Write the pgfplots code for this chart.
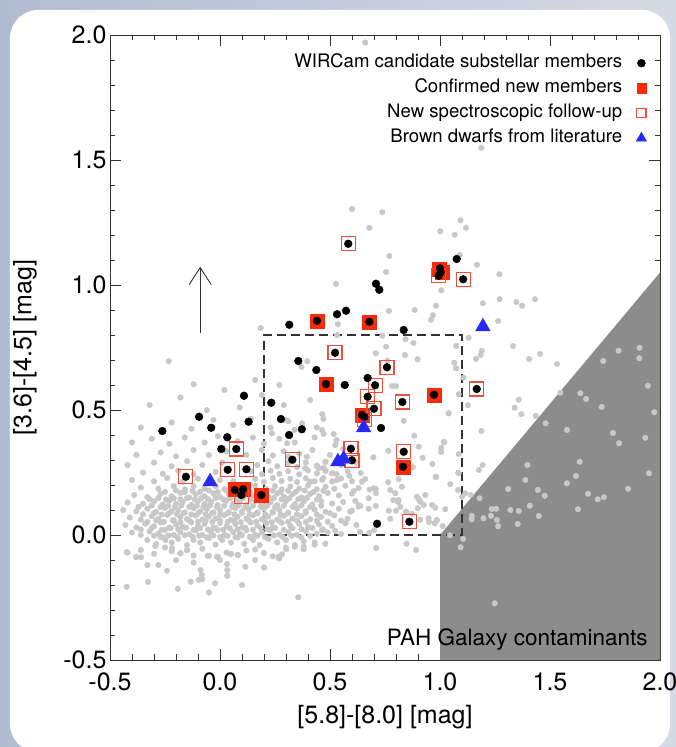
\documentclass[border=0pt]{standalone}
\usepackage{pgfplots}
\pgfplotsset{compat=1.18}
\usepackage{fontspec}
\setmainfont{TeX Gyre Heros}
\usetikzlibrary{arrows.meta}
\definecolor{bgA}{RGB}{176,188,210}
\definecolor{bgB}{RGB}{214,218,228}
\definecolor{shadec}{RGB}{140,140,140}
\definecolor{dotc}{RGB}{200,200,200}
\definecolor{redf}{RGB}{250,42,10}
\definecolor{redo}{RGB}{240,80,55}
\definecolor{bluet}{RGB}{40,40,250}
\definecolor{axc}{RGB}{50,50,50}
\begin{document}
\begin{tikzpicture}
\fill[left color=bgA, right color=bgB] (-110pt,-87pt) rectangle (566pt,660pt);
\fill[white, rounded corners=28pt] (-100pt,-92pt) rectangle (560pt,650pt);
\begin{axis}[
  scale only axis, width=550pt, height=625pt,
  xmin=-0.5, xmax=2.0, ymin=-0.5, ymax=2.0,
  xtick={-0.5,0,0.5,1,1.5,2}, ytick={-0.5,0,0.5,1,1.5,2},
  minor x tick num=4, minor y tick num=4,
  xtick pos=both, ytick pos=both,
  tick align=inside, major tick length=11pt, minor tick length=5.5pt,
  axis line style={axc, line width=0.9pt},
  every tick/.style={axc, line width=0.8pt},
  /pgf/number format/.cd, fixed, fixed zerofill, precision=1, assume math mode=true,
  /pgfplots/.cd,
  ticklabel style={font=\fontsize{25}{30}\selectfont},
  xticklabel style={yshift=-9pt},
  xlabel={[5.8]-[8.0] [mag]},
  ylabel={[3.6]-[4.5] [mag]},
  label style={font=\fontsize{25}{30}\selectfont},
  xlabel style={at={(axis description cs:0.5,-0.0912)}, anchor=center},
  ylabel style={at={(axis description cs:-0.1545,0.5)}, anchor=center},
  legend plot pos=right,
  legend cell align=right,
  legend style={at={(axis cs:1.94,1.922)}, anchor=north east, draw=none, fill=none,
    inner sep=0pt, row sep=8pt, column sep=14pt, font=\fontsize{18.6}{22}\selectfont,
    nodes={inner sep=0pt, text height=13pt, text depth=4pt}},
]
\addlegendimage{only marks, mark=*, mark size=4pt, black}
\addlegendentry{WIRCam candidate substellar members}
\addlegendimage{only marks, mark=square*, mark size=4.6pt, redf, mark options={draw=redf, fill=redf}}
\addlegendentry{Confirmed new members}
\addlegendimage{only marks, mark=square, mark size=4.6pt, redo, mark options={draw=redo, line width=1.1pt}}
\addlegendentry{New spectroscopic follow-up}
\addlegendimage{only marks, mark=triangle*, mark size=6pt, bluet, mark options={draw=bluet, fill=bluet}}
\addlegendentry{Brown dwarfs from literature}

% PAH galaxy region
\addplot[fill=shadec, draw=none, forget plot] coordinates {(1.0,-0.5) (1.0,0.0) (2.0,1.05) (2.0,-0.5)} -- cycle;

% field sources
\addplot[dotc, only marks, mark=*, mark size=2.8pt, mark options={draw=none, fill=dotc}, forget plot] coordinates {
(0.66,1.97) (1.188,1.549) (0.60,1.304) (0.738,1.291) (0.679,1.229) (1.001,1.215) (0.770,1.116) (0.755,1.052)
(0.527,1.005) (1.006,0.979) (0.982,0.917) (0.968,0.879) (0.959,0.861) (0.885,0.90) (0.768,0.896) (0.536,0.843)
(0.185,0.828) (0.532,0.80) (0.738,0.797) (0.843,0.783) (0.879,0.768) (0.755,0.753) (0.708,0.727) (0.841,0.72)
(0.898,0.703) (0.761,0.697) (0.397,0.695) (0.37,0.672) (-0.233,0.695) (-0.12,0.603) (0.782,0.596) (0.80,0.596)
(1.093,1.259) (1.118,1.229) (1.067,1.201) (1.09,1.12) (1.168,1.081) (1.27,1.043)
(1.195,0.927) (1.271,0.943) (1.347,0.932) (1.373,0.917) (1.432,0.943) (1.264,0.856) (1.13,0.789) (1.074,0.756)
(1.332,0.756) (1.19,0.737) (1.185,0.72) (1.164,0.704) (1.405,0.704) (1.455,0.724) (1.532,0.684) (1.065,0.689)
(1.073,0.667) (1.742,0.696) (1.812,0.737) (1.907,0.749) (1.906,0.707) (1.107,0.629) (1.945,0.597) (1.547,0.569)
(1.638,0.567) (1.664,0.544) (1.085,0.563) (1.358,0.541) (1.339,0.509) (1.37,0.483) (1.127,0.519) (1.735,0.512)
(1.974,0.491) (1.039,0.487) (1.435,0.476) (1.48,0.447) (1.577,0.42) (1.786,0.408) (1.814,0.367) (1.933,0.389)
(1.188,0.416) (1.017,0.371) (1.006,0.349) (1.005,0.332) (0.921,0.309) (0.965,0.284) (1.635,0.293) (1.397,0.28)
(1.194,0.28) (1.177,0.26) (1.083,0.249) (0.98,0.232) (1.618,0.236) (1.388,0.22) (1.577,0.207) (1.95,0.247)
(1.855,0.185) (1.047,0.203) (1.31,0.184) (1.445,0.18) (1.673,0.165) (1.717,0.143) (1.745,0.151) (1.476,0.157)
(1.18,0.147) (1.14,0.16) (1.408,0.117) (1.627,0.103) (1.235,0.104) (1.255,0.105) (1.32,0.1) (1.358,0.096)
(1.145,0.077) (1.144,0.063) (1.198,0.067) (1.232,0.077) (1.259,0.06) (1.264,0.035) (1.353,0.044) (1.449,0.076)
(1.105,-0.016) (1.094,-0.049) (1.045,-0.001) (1.249,-0.273)
(0.883,0.397) (0.471,0.404) (0.517,0.404) (0.339,0.421) (0.697,0.311) (0.765,0.337) (0.441,0.276) (0.471,0.268)
(0.645,0.213) (0.588,0.236) (0.708,0.184) (0.608,0.176) (0.788,0.139) (0.809,0.132) (0.903,0.144) (0.926,0.12)
(0.979,0.109) (1.024,0.103) (0.767,0.097) (0.847,0.093) (0.873,0.085) (0.676,0.105) (0.708,0.116) (0.638,0.117)
(0.774,0.065) (0.91,0.061) (0.95,0.052) (0.986,0.06) (0.636,0.012) (0.679,0.009) (0.701,0.02) (0.464,0.02) (0.524,0.016)
(0.465,0.484) (0.835,0.457) (1.04,0.487) (1.02,0.372) (1.085,0.324) (0.903,0.353) (0.876,0.271) (0.983,0.233)
(1.085,0.247) (0.933,0.16) (0.895,0.153) (0.91,0.133) (0.964,0.12) (1.082,0.18) (1.1,0.153) (1.115,0.167)
(0.812,0.223) (0.827,0.193) (0.797,0.167) (0.764,0.211) (0.774,0.18) (0.698,0.187) (0.709,0.167) (0.676,0.147)
(0.615,0.137) (0.63,0.113) (0.592,0.093) (0.812,0.14) (0.82,0.113) (0.8,0.097) (0.845,0.093) (0.899,0.107)
(0.948,0.067) (0.976,0.047) (1.012,0.036) (0.524,0.36) (0.464,0.42) (0.373,0.447) (0.297,0.46) (0.29,0.52)
(0.236,0.407) (0.305,0.367) (0.312,0.313) (0.395,0.313) (0.388,0.267) (0.449,0.267) (0.479,0.293) (0.509,0.247)
(0.532,0.22) (0.464,0.22) (0.41,0.213)
(-0.424,-0.069) (-0.382,-0.088) (-0.359,-0.089) (-0.33,-0.12) (-0.424,-0.207) (-0.327,-0.188) (-0.241,-0.143)
(-0.192,-0.215) (-0.133,-0.187) (-0.097,-0.18) (-0.08,-0.177) (-0.023,-0.193) (0.033,-0.163) (0.033,-0.14)
(0.032,-0.116) (-0.083,-0.16) (-0.088,-0.14) (0.115,-0.127) (0.267,-0.093) (0.082,-0.08) (0.047,-0.076)
(-0.056,-0.083) (-0.014,-0.087) (-0.15,-0.06) (-0.18,-0.073) (-0.218,-0.053) (-0.294,-0.044) (-0.248,-0.02)
(0.43,-0.039) (0.479,-0.035) (0.71,-0.052) (0.848,-0.035) (0.891,-0.06) (0.356,-0.249) (0.38,-0.047)
(0.301,-0.057) (0.282,-0.077) (0.267,-0.087) (-0.2,-0.1) (-0.12,-0.11) (0.0,-0.1) (0.16,-0.1) (0.2,-0.13)
(-0.28,-0.12) (0.1,-0.2) (-0.05,-0.23)
(-0.42,-0.07) (-0.38,-0.088) (-0.36,-0.06) (-0.3,-0.075) (-0.25,-0.05) (-0.22,-0.065) (-0.18,-0.073) (-0.15,-0.06)
(-0.12,-0.082) (-0.08,-0.055) (-0.05,-0.083) (-0.01,-0.087) (0.03,-0.07) (0.05,-0.076) (0.08,-0.08) (0.12,-0.062)
(0.16,-0.058) (0.2,-0.072) (0.24,-0.085) (0.27,-0.093) (0.3,-0.05) (0.34,-0.047) (0.38,-0.057)
(-0.33,-0.02) (-0.29,-0.035) (-0.26,-0.01) (-0.22,-0.03) (-0.19,-0.015) (-0.15,-0.04) (-0.12,-0.02) (-0.09,-0.03)
(-0.05,-0.012) (-0.02,-0.038) (0.01,-0.02) (0.05,-0.03) (0.08,-0.01) (0.11,-0.035) (0.15,-0.02) (0.18,-0.04)
(0.22,-0.015) (0.26,-0.03) (0.3,-0.02) (0.34,-0.04) (0.38,-0.025) (0.43,-0.03)
(-0.4,0.01) (-0.36,0.0) (-0.32,0.015) (-0.28,0.005) (-0.25,0.02) (-0.21,0.0) (-0.18,0.012) (-0.14,0.003)
(-0.11,0.018) (-0.08,0.0) (-0.04,0.01) (-0.01,0.02) (0.02,0.0) (0.06,0.012) (0.09,0.004) (0.12,0.019) (0.16,0.0)
(0.19,0.01) (0.23,0.02) (0.27,0.002) (0.31,0.012) (0.35,0.0) (0.39,0.015) (0.44,0.005) (0.49,0.01) (0.55,0.004)
(-0.43,0.04) (-0.38,0.03) (-0.34,0.045) (-0.3,0.035) (-0.27,0.05) (-0.23,0.03) (-0.2,0.042) (-0.17,0.033)
(-0.13,0.05) (-0.1,0.036) (-0.07,0.045) (-0.03,0.03) (0.0,0.048) (0.03,0.035) (0.07,0.044) (0.1,0.03) (0.14,0.05)
(0.17,0.038) (0.21,0.046) (0.24,0.031) (0.28,0.049) (0.32,0.036) (0.36,0.045) (0.4,0.032) (0.45,0.042)
(0.51,0.036) (0.57,0.047) (0.62,0.04)
(-0.41,0.07) (-0.36,0.062) (-0.31,0.075) (-0.28,0.065) (-0.24,0.08) (-0.21,0.06) (-0.18,0.072) (-0.15,0.064)
(-0.11,0.078) (-0.08,0.062) (-0.05,0.074) (-0.02,0.066) (0.02,0.08) (0.05,0.061) (0.08,0.073) (0.12,0.066)
(0.15,0.079) (0.19,0.063) (0.22,0.074) (0.26,0.062) (0.29,0.077) (0.33,0.066) (0.37,0.075) (0.41,0.063)
(0.46,0.072) (0.52,0.078) (0.58,0.065)
(-0.44,0.1) (-0.38,0.095) (-0.33,0.105) (-0.29,0.092) (-0.25,0.108) (-0.22,0.095) (-0.19,0.1) (-0.16,0.09)
(-0.12,0.107) (-0.09,0.094) (-0.06,0.104) (-0.03,0.09) (0.0,0.1) (0.04,0.092) (0.07,0.108) (0.1,0.095)
(0.13,0.103) (0.17,0.09) (0.2,0.106) (0.24,0.093) (0.27,0.1) (0.31,0.09) (0.35,0.106) (0.39,0.095) (0.43,0.102)
(0.48,0.093) (0.54,0.105) (0.6,0.098)
(-0.42,0.13) (-0.35,0.125) (-0.3,0.135) (-0.26,0.122) (-0.23,0.138) (-0.2,0.125) (-0.17,0.133) (-0.13,0.12)
(-0.1,0.136) (-0.07,0.124) (-0.04,0.132) (-0.01,0.12) (0.03,0.138) (0.06,0.125) (0.09,0.133) (0.12,0.12)
(0.16,0.137) (0.19,0.124) (0.23,0.132) (0.26,0.12) (0.3,0.136) (0.34,0.124) (0.38,0.133) (0.42,0.122)
(0.46,0.135) (0.51,0.126) (0.56,0.132) (0.63,0.12)
(-0.39,0.16) (-0.33,0.152) (-0.27,0.165) (-0.22,0.155) (-0.18,0.168) (-0.14,0.15) (-0.11,0.162) (-0.07,0.155)
(-0.03,0.167) (0.0,0.152) (0.04,0.163) (0.08,0.15) (0.11,0.166) (0.15,0.155) (0.19,0.163) (0.22,0.15)
(0.26,0.166) (0.29,0.154) (0.33,0.163) (0.37,0.15) (0.41,0.165) (0.45,0.155) (0.49,0.168) (0.54,0.158) (0.6,0.165)
(-0.36,0.19) (-0.28,0.185) (-0.21,0.195) (-0.16,0.182) (-0.12,0.196) (-0.07,0.185) (-0.02,0.195) (0.02,0.183)
(0.12,0.19) (0.16,0.198) (0.21,0.184) (0.25,0.195) (0.28,0.182) (0.32,0.194) (0.36,0.186) (0.4,0.198)
(0.44,0.183) (0.48,0.193) (0.52,0.185) (0.57,0.197) (0.63,0.188) (0.68,0.182)
(-0.4,0.22) (-0.3,0.215) (-0.24,0.228) (-0.17,0.213) (-0.1,0.225) (0.0,0.22) (0.06,0.215) (0.16,0.225)
(0.2,0.212) (0.24,0.228) (0.28,0.216) (0.32,0.225) (0.35,0.212) (0.39,0.227) (0.43,0.215) (0.47,0.228)
(0.51,0.214) (0.55,0.226) (0.6,0.215) (0.66,0.224)
(-0.35,0.25) (-0.26,0.245) (-0.19,0.258) (-0.12,0.243) (-0.02,0.252) (0.14,0.255) (0.19,0.243) (0.23,0.257)
(0.27,0.245) (0.31,0.255) (0.36,0.243) (0.4,0.258) (0.44,0.246) (0.48,0.256) (0.53,0.244) (0.58,0.255) (0.64,0.248)
(-0.42,0.28) (-0.3,0.29) (-0.22,0.275) (-0.15,0.295) (-0.08,0.28) (0.01,0.29) (0.17,0.28) (0.22,0.295)
(0.26,0.275) (0.31,0.288) (0.35,0.272) (0.39,0.29) (0.44,0.278) (0.48,0.292) (0.55,0.28) (0.62,0.29)
(-0.38,0.32) (-0.27,0.33) (-0.2,0.315) (-0.12,0.34) (-0.05,0.32) (0.03,0.335) (0.12,0.32) (0.19,0.34)
(0.24,0.318) (0.29,0.335) (0.36,0.325) (0.42,0.34) (0.5,0.32) (0.56,0.345)
(-0.4,0.37) (-0.31,0.385) (-0.23,0.365) (-0.16,0.39) (-0.07,0.37) (-0.01,0.395) (0.08,0.375) (0.15,0.39)
(0.2,0.365) (0.27,0.385) (0.34,0.37) (0.43,0.39) (0.53,0.38)
(-0.36,0.43) (-0.22,0.45) (-0.13,0.425) (-0.03,0.46) (0.06,0.44) (0.14,0.465) (0.23,0.43) (0.31,0.455)
(0.44,0.43) (0.47,0.465)
(-0.32,0.52) (-0.18,0.55) (-0.06,0.5) (0.02,0.58) (0.09,0.51) (0.19,0.56) (0.27,0.6) (0.41,0.54) (0.48,0.6) (0.16,0.62)
(-0.3,-0.003) (-0.27,-0.009) (-0.235,-0.002) (-0.195,-0.008) (-0.16,-0.001) (-0.125,-0.007) (-0.095,-0.003)
(-0.06,-0.009) (-0.03,-0.002) (0.0,-0.008) (0.035,-0.004) (0.07,-0.009) (0.1,-0.001) (0.135,-0.007)
(0.17,-0.003) (0.205,-0.009) (0.245,-0.002) (0.285,-0.008) (0.325,-0.003) (0.37,-0.01) (0.41,-0.004)
(-0.36,0.022) (-0.31,0.028) (-0.265,0.021) (-0.225,0.027) (-0.19,0.023) (-0.155,0.029) (-0.12,0.021)
(-0.09,0.027) (-0.055,0.022) (-0.02,0.028) (0.015,0.021) (0.045,0.027) (0.08,0.023) (0.115,0.029)
(0.15,0.021) (0.185,0.027) (0.215,0.022) (0.25,0.028) (0.29,0.021) (0.33,0.027) (0.37,0.023) (0.42,0.028) (0.47,0.022)
(-0.33,0.052) (-0.29,0.058) (-0.255,0.053) (-0.215,0.059) (-0.18,0.051) (-0.14,0.057) (-0.1,0.053)
(-0.065,0.058) (-0.035,0.052) (0.0,0.059) (0.035,0.053) (0.065,0.057) (0.095,0.051) (0.13,0.058)
(0.165,0.053) (0.2,0.059) (0.235,0.052) (0.27,0.057) (0.31,0.053) (0.35,0.058) (0.39,0.052) (0.44,0.057) (0.49,0.053) (0.55,0.058)
(-0.35,0.083) (-0.3,0.088) (-0.265,0.082) (-0.23,0.087) (-0.195,0.083) (-0.165,0.088) (-0.13,0.082)
(-0.1,0.087) (-0.065,0.083) (-0.035,0.089) (0.0,0.082) (0.035,0.087) (0.065,0.083) (0.1,0.088)
(0.135,0.082) (0.17,0.087) (0.205,0.083) (0.24,0.089) (0.275,0.082) (0.31,0.087) (0.35,0.083) (0.39,0.088) (0.44,0.082) (0.5,0.087)
(-0.37,0.113) (-0.31,0.118) (-0.27,0.112) (-0.235,0.117) (-0.205,0.113) (-0.175,0.118) (-0.14,0.112)
(-0.105,0.117) (-0.075,0.113) (-0.045,0.118) (-0.015,0.112) (0.02,0.117) (0.055,0.113) (0.085,0.118)
(0.115,0.112) (0.15,0.117) (0.185,0.113) (0.215,0.118) (0.25,0.112) (0.29,0.117) (0.33,0.113) (0.37,0.118) (0.41,0.112) (0.46,0.117)
(-0.32,0.143) (-0.28,0.148) (-0.245,0.142) (-0.21,0.147) (-0.18,0.143) (-0.15,0.148) (-0.115,0.142)
(-0.085,0.147) (-0.055,0.143) (-0.02,0.148) (0.015,0.142) (0.045,0.147) (0.075,0.143) (0.105,0.148)
(0.14,0.142) (0.175,0.147) (0.21,0.143) (0.245,0.148) (0.28,0.142) (0.315,0.147) (0.355,0.143) (0.395,0.148) (0.44,0.142)
(-0.25,0.173) (-0.2,0.178) (-0.16,0.172) (-0.125,0.177) (-0.09,0.173) (-0.05,0.178) (-0.01,0.172)
(0.03,0.177) (0.065,0.173) (0.1,0.178) (0.135,0.172) (0.17,0.177) (0.205,0.173) (0.24,0.178) (0.275,0.172)
(0.31,0.177) (0.345,0.173) (0.385,0.178) (0.425,0.172) (0.47,0.177)
};

% dashed selection box
\addplot[forget plot, axc, line width=1.1pt, dash pattern=on 9pt off 5pt] coordinates {(0.2,0) (1.1,0) (1.1,0.8) (0.2,0.8) (0.2,0)};
% arrow
\addplot[forget plot, axc, line width=0.9pt, -{Straight Barb[length=17pt,width=22pt]}] coordinates {(-0.09,0.809) (-0.09,1.073)};

% confirmed new members
\addplot[redf, only marks, mark=square*, mark size=7pt, forget plot, mark options={draw=redf, fill=redf}] coordinates {
(0.067,0.183) (0.105,0.183) (0.188,0.16) (0.441,0.857) (0.679,0.853) (0.482,0.604) (0.973,0.561)
(0.645,0.48) (0.832,0.273) (0.998,1.065) (1.008,1.05)
};
% new spectroscopic follow-up
\addplot[redo, only marks, mark=square, mark size=7pt, forget plot, mark options={draw=redo, line width=1.2pt}] coordinates {
(0.583,1.165) (0.994,1.037) (1.105,1.023) (0.523,0.729) (0.759,0.671) (0.705,0.599) (1.167,0.584)
(0.671,0.553) (0.829,0.532) (0.7,0.505) (0.655,0.462) (0.595,0.345) (0.60,0.299) (0.835,0.333)
(0.329,0.301) (0.861,0.053) (-0.155,0.233) (0.035,0.261) (0.12,0.263) (0.074,0.344) (0.097,0.155)
};
% WIRCam candidates
\addplot[black, only marks, mark=*, mark size=3.9pt, forget plot, mark options={draw=black, fill=black}] coordinates {
(-0.262,0.416) (-0.095,0.473) (0.109,0.557) (-0.04,0.429) (0.13,0.453) (0.033,0.391) (0.006,0.344)
(0.074,0.344) (-0.155,0.233) (0.035,0.261) (0.12,0.263) (0.067,0.18) (0.105,0.183) (0.097,0.16)
(0.188,0.16) (0.233,0.529) (0.277,0.464) (0.314,0.40) (0.372,0.423) (0.329,0.301)
(0.583,1.165) (1.0,1.067) (1.003,1.051) (0.994,1.037) (1.076,1.104) (1.105,1.023) (0.709,1.005)
(0.724,0.981) (0.315,0.841) (0.441,0.857) (0.532,0.883) (0.573,0.897) (0.679,0.853) (0.835,0.82)
(0.523,0.729) (0.356,0.696) (0.438,0.66) (0.759,0.671) (0.482,0.604) (0.567,0.60) (0.671,0.628)
(0.705,0.599) (1.167,0.584) (0.973,0.561)
(0.671,0.553) (0.829,0.532) (0.7,0.505) (0.645,0.48) (0.656,0.473) (0.732,0.428) (0.595,0.345)
(0.60,0.299) (0.835,0.333) (0.832,0.273) (0.714,0.045) (0.861,0.053)
};
% brown dwarfs from literature
\addplot[bluet, only marks, mark=triangle*, mark size=8.5pt, forget plot, mark options={draw=bluet, fill=bluet}] coordinates {
(-0.045,0.213) (0.536,0.293) (0.562,0.304) (0.653,0.429) (1.195,0.833)
};

\node[anchor=east, font=\fontsize{22.5}{26}\selectfont] at (axis cs:1.96,-0.42) {PAH Galaxy contaminants};
\end{axis}
\pgfresetboundingbox
\path[use as bounding box] (-110pt,-87pt) rectangle (566pt,660pt);
\end{tikzpicture}
\end{document}
